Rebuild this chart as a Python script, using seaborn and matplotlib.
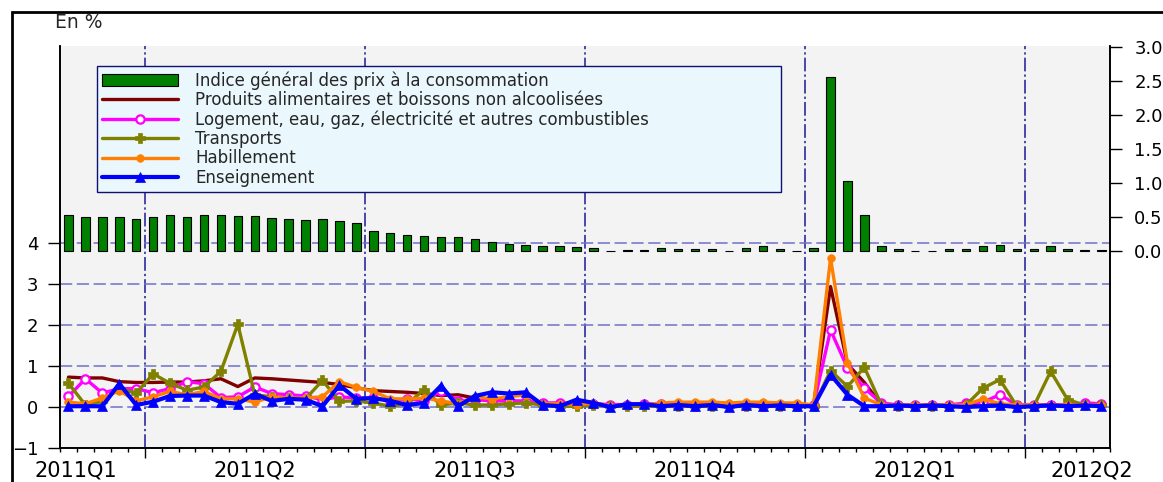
import numpy as np
import pandas as pd
import matplotlib
matplotlib.use("Agg")
import matplotlib.pyplot as plt
import seaborn as sns
from matplotlib.patches import Rectangle
from matplotlib.ticker import FixedLocator, NullFormatter, FormatStrFormatter

# weekly variations, 2011Q1 (partial) to 2012Q2 (partial)
quarters = ["2011Q1", "2011Q2", "2011Q3", "2011Q4", "2012Q1", "2012Q2"]
weeks_per_quarter = [5, 13, 13, 13, 13, 5]

cpi = [0.525, 0.495, 0.495, 0.50, 0.47, 0.505, 0.525, 0.505, 0.535, 0.525,
       0.51, 0.52, 0.48, 0.465, 0.45, 0.475, 0.435, 0.415, 0.30, 0.27,
       0.23, 0.22, 0.21, 0.21, 0.18, 0.13, 0.11, 0.09, 0.08, 0.08,
       0.055, 0.04, 0.0, 0.02, 0.02, 0.04, 0.035, 0.025, 0.035, 0.0,
       0.045, 0.07, 0.03, 0.005, 0.045, 2.55, 1.035, 0.525, 0.07, 0.025,
       0.0, 0.0, 0.025, 0.035, 0.075, 0.085, 0.035, 0.035, 0.075, 0.035,
       0.02, 0.02]

food = [0.73, 0.71, 0.71, 0.62, 0.60, 0.60, 0.61, 0.61, 0.64, 0.69,
        0.50, 0.71, 0.69, 0.66, 0.63, 0.60, 0.55, 0.47, 0.40, 0.38,
        0.36, 0.33, 0.28, 0.30, 0.22, 0.18, 0.15, 0.12, 0.08, 0.06,
        0.06, 0.06, 0.05, 0.05, 0.06, 0.06, 0.05, 0.05, 0.06, 0.06,
        0.05, 0.06, 0.05, 0.06, 0.05, 2.94, 1.05, 0.60, 0.05, 0.04,
        0.04, 0.04, 0.04, 0.04, 0.05, 0.05, 0.04, 0.05, 0.05, 0.05,
        0.04, 0.04]

housing = [0.26, 0.69, 0.34, 0.45, 0.45, 0.35, 0.45, 0.62, 0.57, 0.23,
           0.25, 0.49, 0.33, 0.30, 0.27, 0.18, 0.25, 0.22, 0.22, 0.15,
           0.20, 0.15, 0.40, 0.15, 0.18, 0.15, 0.15, 0.15, 0.10, 0.10,
           0.08, 0.08, 0.06, 0.06, 0.08, 0.08, 0.06, 0.06, 0.06, 0.06,
           0.06, 0.06, 0.06, 0.05, 0.05, 1.88, 0.95, 0.46, 0.10, 0.05,
           0.05, 0.05, 0.05, 0.10, 0.12, 0.30, 0.05, 0.05, 0.05, 0.05,
           0.10, 0.08]

transport = [0.58, 0.05, 0.15, 0.45, 0.34, 0.81, 0.58, 0.41, 0.49, 0.87,
             2.02, 0.30, 0.25, 0.22, 0.20, 0.65, 0.14, 0.15, 0.10, 0.02,
             0.08, 0.42, 0.05, 0.10, 0.05, 0.05, 0.08, 0.10, 0.05, 0.02,
             0.02, 0.05, 0.02, 0.02, 0.02, 0.02, 0.02, 0.02, 0.02, 0.02,
             0.02, 0.02, 0.02, 0.02, 0.02, 0.89, 0.50, 0.97, 0.05, 0.02,
             0.02, 0.02, 0.02, 0.05, 0.46, 0.67, 0.02, 0.02, 0.87, 0.18,
             0.05, 0.05]

clothing = [0.12, 0.08, 0.22, 0.40, 0.15, 0.25, 0.38, 0.30, 0.38, 0.20,
            0.20, 0.12, 0.25, 0.22, 0.22, 0.25, 0.62, 0.48, 0.38, 0.20,
            0.20, 0.22, 0.15, 0.08, 0.25, 0.20, 0.25, 0.30, 0.08, 0.08,
            0.05, 0.10, 0.03, 0.05, 0.05, 0.10, 0.12, 0.12, 0.12, 0.10,
            0.12, 0.12, 0.10, 0.10, 0.05, 3.63, 1.07, 0.22, 0.05, 0.05,
            0.05, 0.05, 0.05, 0.05, 0.20, 0.08, 0.05, 0.05, 0.05, 0.05,
            0.05, 0.05]

education = [0.02, 0.02, 0.02, 0.57, 0.05, 0.13, 0.27, 0.28, 0.28, 0.12,
             0.08, 0.32, 0.15, 0.20, 0.18, 0.02, 0.53, 0.20, 0.22, 0.15,
             0.05, 0.10, 0.52, 0.02, 0.27, 0.36, 0.33, 0.36, 0.05, 0.02,
             0.18, 0.10, 0.0, 0.07, 0.07, 0.02, 0.05, 0.02, 0.05, 0.0,
             0.05, 0.02, 0.04, 0.02, 0.02, 0.79, 0.30, 0.02, 0.02, 0.04,
             0.02, 0.04, 0.02, 0.0, 0.02, 0.04, 0.0, 0.02, 0.04, 0.02,
             0.04, 0.02]

df = pd.DataFrame({
    "week": np.arange(len(cpi)),
    "cpi": cpi,
    "food": food,
    "housing": housing,
    "transport": transport,
    "clothing": clothing,
    "education": education,
})

sns.set_theme(style="ticks")
plt.rcParams["font.family"] = ["DejaVu Sans"]

fig = plt.figure(figsize=(11.63, 4.82), dpi=100)
ax = fig.add_axes([0.0516, 0.0705, 0.9028, 0.834])
ax.set_facecolor("#F3F3F3")
ax.set_axisbelow(True)

# label, column, colour, marker, extra style
series = [
    ("Produits alimentaires et boissons non alcoolisées", "food", "#800000", None, {}),
    ("Logement, eau, gaz, électricité et autres combustibles", "housing", "#FF00FF", "o",
     dict(markersize=6, markerfacecolor="white", markeredgewidth=1.6)),
    ("Transports", "transport", "#808000", "P", dict(markersize=6.5, markeredgewidth=0.5)),
    ("Habillement", "clothing", "#FF8000", "o", dict(markersize=5.5, markeredgewidth=0.5)),
    ("Enseignement", "education", "#0000FF", "^", dict(markersize=7.5, markeredgewidth=0.5)),
]
for label, col, color, marker, kw in series:
    lw = 3.0 if col == "education" else 2.4
    sns.lineplot(data=df, x="week", y=col, ax=ax, color=color, linewidth=lw,
                 marker=marker, markeredgecolor=color, label=label, **kw)
line_handles, line_labels = ax.get_legend_handles_labels()
if ax.get_legend() is not None:
    ax.get_legend().remove()

ax2 = ax.twinx()
sns.barplot(data=df, x="week", y="cpi", ax=ax2, color="#008000", saturation=1,
            width=0.5, edgecolor="black", linewidth=0.8)
bar_handle = ax2.patches[0]

# axes ranges
ax.set_xlim(-0.5, len(cpi) - 0.5)
ax.set_ylim(-1.0, 8.81)
ax2.set_ylim(-2.89, 3.01)

# x ticks: quarter boundaries (major) and weeks (minor)
bounds = np.cumsum(weeks_per_quarter)[:-1] - 0.5
ax.xaxis.set_major_locator(FixedLocator(bounds))
ax.xaxis.set_minor_locator(FixedLocator(np.arange(-0.5, len(cpi), 1.0)))
ax.xaxis.set_major_formatter(NullFormatter())
ax.tick_params(axis="x", which="major", length=7, width=1, color="black")
ax.tick_params(axis="x", which="minor", length=3, width=1, color="black")
ax.set_xlabel("")
ax2.set_xlabel("")

starts = np.concatenate([[bounds[0] - 13], bounds])
centers = np.clip(starts + 6.5, 0.45, len(cpi) - 1.6)
for q, c in zip(quarters, centers):
    ax.text(c, -0.055, q, transform=ax.get_xaxis_transform(), ha="center",
            va="center", fontsize=15, color="black")

# y axes
ax.set_yticks([-1, 0, 1, 2, 3, 4])
ax.tick_params(axis="y", labelsize=13, length=8.5, width=1, pad=7, colors="black")
ax.set_ylabel("")
ax2.set_yticks(np.arange(0, 3.01, 0.5))
ax2.yaxis.set_major_formatter(FormatStrFormatter("%.1f"))
ax2.tick_params(axis="y", which="major", direction="out", labelsize=13, length=8.5,
                width=1, pad=9, colors="black")
ax2.set_ylabel("")

# grid
ax.grid(axis="y", color="#7070C8", linestyle=(0, (8, 3)), linewidth=1.1)
ax.grid(axis="x", which="major", color="#1A1A9A", linestyle=(0, (9, 2, 1.5, 2)), linewidth=1.1)

for a in (ax, ax2):
    a.spines["top"].set_visible(False)
    for s in ("left", "right", "bottom"):
        a.spines[s].set_color("black")
        a.spines[s].set_linewidth(1.2)

leg = ax2.legend([bar_handle] + line_handles,
                 ["Indice général des prix à la consommation"] + line_labels,
                 loc="upper left", bbox_to_anchor=(0.035, 0.95, 0.652, 0.0),
                 mode="expand", borderaxespad=0, fontsize=12, frameon=True,
                 fancybox=False, edgecolor="#101070", facecolor="#EAF7FD",
                 framealpha=1, handlelength=4.6, handletextpad=1.0,
                 labelspacing=0.08, borderpad=0.3)
leg.get_frame().set_linewidth(1.0)

fig.text(55 / 1163, 1 - 22.5 / 482, "En %", fontsize=13.5, va="center", ha="left")
fig.add_artist(Rectangle((0.0101, -0.1), 2.0, 1.0757, transform=fig.transFigure,
                         fill=False, edgecolor="black", linewidth=2.0))

fig.savefig("out.png", dpi=100)
